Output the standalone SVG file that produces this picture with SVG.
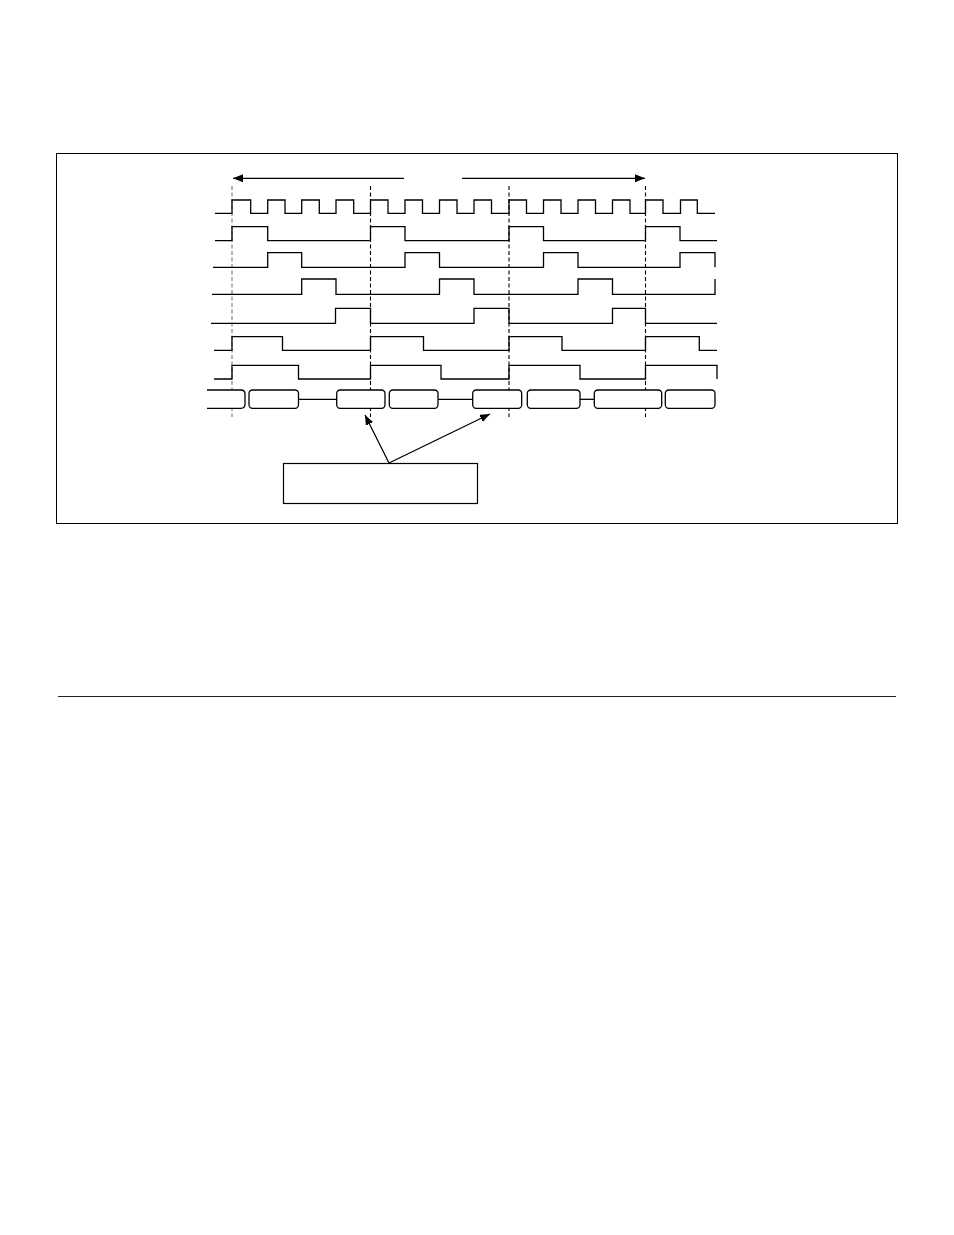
<svg xmlns="http://www.w3.org/2000/svg" width="954" height="1235" viewBox="0 0 954 1235">
<style>
.sig{fill:none;stroke:#000;stroke-width:1.3}
.bus{fill:#fff;stroke:#000;stroke-width:1.3}
.dash{fill:none;stroke:#000;stroke-width:1.1;stroke-dasharray:4,2.5}
.conn{fill:none;stroke:#000;stroke-width:1.3}
</style>
<defs>
<marker id="ah" markerWidth="10" markerHeight="8" refX="10" refY="4" orient="auto" markerUnits="userSpaceOnUse">
<path d="M0,0 L10,4 L0,8 Z" fill="#000"/>
</marker>
</defs>
<rect width="954" height="1235" fill="#fff"/>
<g id="frame"><rect x="56.5" y="153.5" width="841" height="370" fill="none" stroke="#000" stroke-width="1"/></g>
<g id="rule"><line x1="58" y1="696.5" x2="896" y2="696.5" stroke="#222" stroke-width="1.2"/></g>
<g id="frame-markers">
<line class="dash" x1="232" y1="186" x2="232" y2="417" style="stroke:#777"/>
<line class="dash" x1="370.5" y1="186" x2="370.5" y2="417"/>
<line class="dash" x1="509" y1="186" x2="509" y2="417"/>
<line class="dash" x1="645.5" y1="186" x2="645.5" y2="417"/>
</g>
<g id="clk"><path class="sig" d="M215,213.3 H232 V200 H250.7 V213.3 H267.7 V200 H285 V213.3 H301.7 V200 H319.3 V213.3 H336 V200 H353.7 V213.3 H370.5 V200 H388 V213.3 H405 V200 H422.5 V213.3 H439.5 V200 H457 V213.3 H474 V200 H491.5 V213.3 H509 V200 H526.5 V213.3 H543.5 V200 H561 V213.3 H578 V200 H595.5 V213.3 H612.5 V200 H630 V213.3 H645.5 V200 H663 V213.3 H680.5 V200 H697.3 V213.3 H715"/></g>
<g id="s1"><path class="sig" d="M215,240.7 H232 V226.7 H267.7 V240.7 H370.5 V226.7 H405 V240.7 H509 V226.7 H543.5 V240.7 H645.5 V226.7 H680 V240.7 H717"/></g>
<g id="s2"><path class="sig" d="M213,267.3 H267.7 V252.7 H301.7 V267.3 H405 V252.7 H439.5 V267.3 H543.5 V252.7 H578 V267.3 H680 V252.7 H715 V267.3"/></g>
<g id="s3"><path class="sig" d="M212,294.3 H301.7 V279 H336 V294.3 H439.5 V279 H474 V294.3 H578 V279 H612.5 V294.3 H715 V279"/></g>
<g id="s4"><path class="sig" d="M211,323.3 H335.5 V308.3 H370.5 V323.3 H474 V308.3 H509 V323.3 H612.5 V308.3 H645.5 V323.3 H717"/></g>
<g id="s5"><path class="sig" d="M214,350.3 H232 V336.7 H282.5 V350.3 H370.5 V336.7 H423.5 V350.3 H509 V336.7 H562 V350.3 H645.5 V336.7 H699.3 V350.3 H717"/></g>
<g id="s6"><path class="sig" d="M214,379 H232 V365.3 H298.5 V379 H370.5 V365.3 H441 V379 H509 V365.3 H580 V379 H645.5 V365.3 H717 V379"/></g>
<g id="bus">
<line class="sig" x1="298" y1="399.3" x2="337" y2="399.3"/>
<line class="sig" x1="438" y1="399.3" x2="473" y2="399.3"/>
<line class="sig" x1="580" y1="399.3" x2="594.5" y2="399.3"/>
<path class="bus" d="M207,390 H241 Q245,390 245,394 V404.3 Q245,408.3 241,408.3 H207"/>
<rect class="bus" x="249" y="390" width="49.5" height="18.3" rx="3.5"/>
<rect class="bus" x="336.7" y="390" width="48.3" height="18.3" rx="3.5"/>
<rect class="bus" x="389.3" y="390" width="48.7" height="18.3" rx="3.5"/>
<rect class="bus" x="472.7" y="390" width="49" height="18.3" rx="3.5"/>
<rect class="bus" x="527.3" y="390" width="52.7" height="18.3" rx="3.5"/>
<rect class="bus" x="594.3" y="390" width="67.4" height="18.3" rx="3.5"/>
<rect class="bus" x="665.3" y="390" width="49.7" height="18.3" rx="3.5"/>
</g>
<g id="callout"><rect x="283.5" y="463.5" width="194" height="40" fill="#fff" stroke="#000" stroke-width="1.2"/></g>
<g id="connectors">
<line class="conn" x1="404" y1="178.3" x2="233" y2="178.3" marker-end="url(#ah)"/>
<line class="conn" x1="462" y1="178.3" x2="645" y2="178.3" marker-end="url(#ah)"/>
<line class="conn" x1="389" y1="463" x2="365" y2="415" marker-end="url(#ah)"/>
<line class="conn" x1="389" y1="463" x2="490" y2="414" marker-end="url(#ah)"/>
</g>
</svg>
